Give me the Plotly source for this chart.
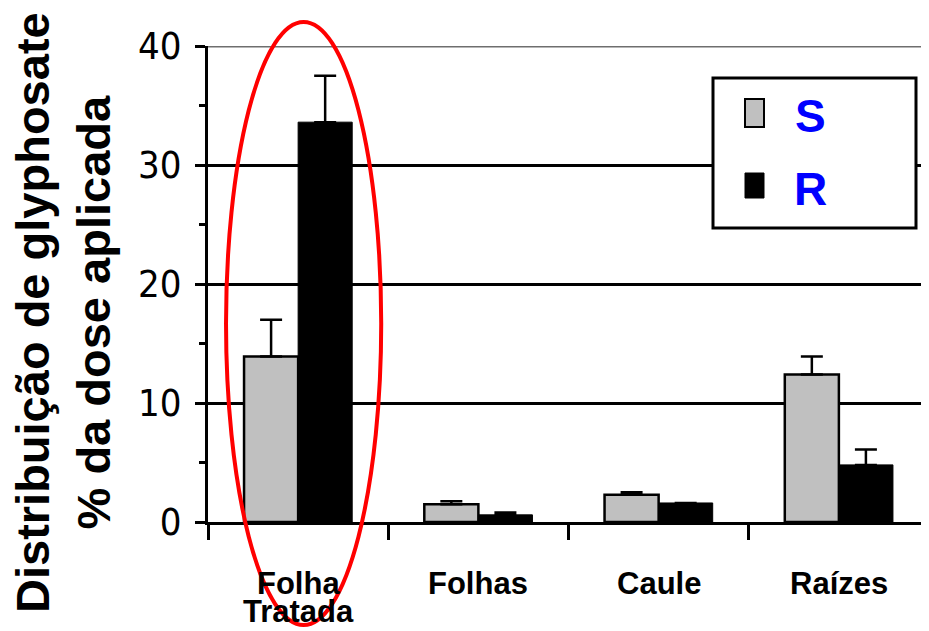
import plotly.graph_objects as go

categories = ["Folha Tratada", "Folhas", "Caule", "Raízes"]
category_lines = [["Folha", "Tratada"], ["Folhas"], ["Caule"], ["Raízes"]]
s_values = [13.9, 1.5, 2.3, 12.4]
s_errors = [3.1, 0.25, 0.2, 1.5]
r_values = [33.6, 0.6, 1.6, 4.8]
r_errors = [3.9, 0.2, 0.0, 1.3]
y_ticks = [0, 10, 20, 30, 40]
series_names = ["S", "R"]

# page body has an 8px margin; figure is sized/positioned to compensate
OFF = 8
W, H = 929 - OFF, 631 - OFF
PL, PR, PT, PB = 208, 929, 46, 522  # plot area in page pixels


def px(x):
    return (x - PL) / (PR - PL)


def py(y):
    return (PB - y) / (PB - PT)


fig = go.Figure()
fig.add_trace(go.Bar(
    x=categories, y=s_values, name=series_names[0],
    marker=dict(color="#c0c0c0", line=dict(color="black", width=2.5)),
    error_y=dict(type="data", array=s_errors, arrayminus=[0]*4, symmetric=False,
                 color="black", thickness=2.5, width=11),
))
fig.add_trace(go.Bar(
    x=categories, y=r_values, name=series_names[1],
    marker=dict(color="black", line=dict(color="black", width=1)),
    error_y=dict(type="data", array=r_errors, arrayminus=[0]*4, symmetric=False,
                 color="black", thickness=2.5, width=11),
))

fig.update_layout(
    width=W, height=H,
    margin=dict(l=PL - OFF, r=W - (PR - OFF), t=PT - OFF, b=H - (PB - OFF), autoexpand=False),
    paper_bgcolor="white", plot_bgcolor="white",
    barmode="group", bargap=0.4, bargroupgap=0,
    showlegend=False,
    font=dict(family="Liberation Sans, Arial, sans-serif", color="black"),
)
fig.update_xaxes(
    showline=True, linecolor="black", linewidth=3,
    ticks="outside", tickson="boundaries", ticklen=15, tickwidth=3, tickcolor="black",
    showticklabels=False,
    showgrid=False, range=[-0.5, 3.5], automargin=False,
)
fig.update_yaxes(
    range=[0, 40], tickvals=y_ticks, ticktext=[str(v) for v in y_ticks],
    showline=True, linecolor="black", linewidth=3,
    ticks="outside", ticklen=10, tickwidth=3, tickcolor="black",
    minor=dict(dtick=5, ticks="outside", ticklen=6, tickwidth=3, tickcolor="black", showgrid=False),
    tickfont=dict(size=38, family="Liberation Sans Narrow, DejaVu Sans Condensed, Arial Narrow, sans-serif"),
    ticklabelstandoff=6,
    showgrid=True, gridcolor="black", gridwidth=2.5,
    zeroline=False, automargin=False,
)

# category labels (tight line spacing like the original)
for i, lines in enumerate(category_lines):
    for j, line in enumerate(lines):
        fig.add_annotation(xref="x", yref="paper", x=i, y=py(583 + 28 * j),
                           text=line, showarrow=False, xanchor="center", yanchor="middle",
                           font=dict(size=31, weight="bold", color="black",
                                     family="Liberation Sans, Arial, sans-serif"))

# gray top gridline
fig.add_shape(type="line", xref="paper", yref="y", x0=0, x1=1, y0=40, y1=40,
              line=dict(color="#6e6e6e", width=3))

# y-axis title
fig.add_annotation(
    xref="paper", yref="paper", x=px(63), y=py(313),
    xanchor="center", yanchor="middle",
    text="Distribuição de glyphosate<br>% da dose aplicada", textangle=-90, showarrow=False,
    font=dict(size=47, family="Liberation Sans, Arial, sans-serif", weight="bold", color="black"),
)

# legend box
fig.add_shape(type="rect", xref="paper", yref="paper", x0=px(713), x1=px(916), y0=py(228), y1=py(78),
              line=dict(color="black", width=3), fillcolor="white", layer="above")
fig.add_shape(type="rect", xref="paper", yref="paper",
              x0=px(745), x1=px(764), y0=py(127), y1=py(99),
              line=dict(color="black", width=2), fillcolor="#c0c0c0", layer="above")
fig.add_shape(type="rect", xref="paper", yref="paper",
              x0=px(745), x1=px(764), y0=py(198), y1=py(173),
              line=dict(color="black", width=1), fillcolor="black", layer="above")
for name, ly in zip(series_names, [116, 189]):
    fig.add_annotation(xref="paper", yref="paper", x=px(810), y=py(ly),
                       text=name, showarrow=False, xanchor="center", yanchor="middle",
                       font=dict(size=46, color="#0000ff", weight="bold",
                                 family="Liberation Sans, Arial, sans-serif"))

# red ellipse highlight
fig.add_shape(type="circle", xref="x", yref="paper",
              x0=-0.4, x1=0.461, y0=py(625), y1=py(22),
              line=dict(color="#ff0000", width=4), fillcolor="rgba(0,0,0,0)", layer="above")

fig.write_html("out.html")
